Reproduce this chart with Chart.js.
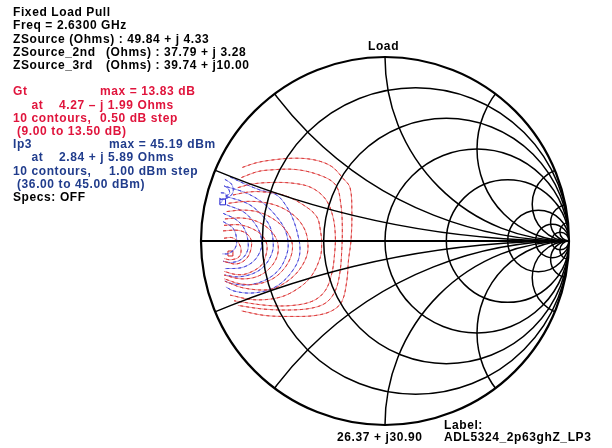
<!DOCTYPE html>
<html>
<head>
<meta charset="utf-8">
<script src="https://cdn.jsdelivr.net/npm/chart.js@4.4.0/dist/chart.umd.min.js"></script>
<style>
  html, body { margin: 0; padding: 0; background: #fff; }
  #wrap { position: relative; width: 612px; height: 448px; overflow: hidden; }
  canvas { position: absolute; left: 0; top: 0; }
  .t { position: absolute; font-family: "Liberation Sans", Arial, sans-serif; font-weight: bold;
       font-size: 12px; line-height: 13.2px; letter-spacing: 0.6px; white-space: pre; color: #000; }
  .r { color: #e0143c; }
  .b { color: #203c8c; }
</style>
</head>
<body>
<div id="wrap">
  <canvas id="smith" width="612" height="448"></canvas>

  <div class="t" style="left:13px;top:6.1px">Fixed Load Pull</div>
  <div class="t" style="left:13px;top:19.3px">Freq = 2.6300 GHz</div>
  <div class="t" style="left:13px;top:32.5px">ZSource (Ohms) : 49.84 + j 4.33</div>
  <div class="t" style="left:13px;top:45.7px">ZSource_2nd</div>
  <div class="t" style="left:106px;top:45.7px">(Ohms) : 37.79 + j 3.28</div>
  <div class="t" style="left:13px;top:58.9px">ZSource_3rd</div>
  <div class="t" style="left:106px;top:58.9px">(Ohms) : 39.74 + j10.00</div>

  <div class="t r" style="left:13px;top:85.3px">Gt</div>
  <div class="t r" style="left:100px;top:85.3px">max = 13.83 dB</div>
  <div class="t r" style="left:31.5px;top:98.5px">at</div>
  <div class="t r" style="left:59px;top:98.5px">4.27 – j 1.99 Ohms</div>
  <div class="t r" style="left:13px;top:111.7px">10 contours,</div>
  <div class="t r" style="left:100px;top:111.7px">0.50 dB step</div>
  <div class="t r" style="left:17px;top:124.9px">(9.00 to 13.50 dB)</div>

  <div class="t b" style="left:13px;top:138.1px">Ip3</div>
  <div class="t b" style="left:109px;top:138.1px">max = 45.19 dBm</div>
  <div class="t b" style="left:31.5px;top:151.3px">at</div>
  <div class="t b" style="left:59px;top:151.3px">2.84 + j 5.89 Ohms</div>
  <div class="t b" style="left:13px;top:164.5px">10 contours,</div>
  <div class="t b" style="left:109px;top:164.5px">1.00 dBm step</div>
  <div class="t b" style="left:17px;top:177.7px">(36.00 to 45.00 dBm)</div>
  <div class="t" style="left:13px;top:190.9px">Specs: OFF</div>

  <div class="t" style="left:368px;top:39.5px">Load</div>
  <div class="t" style="left:337px;top:431px">26.37 + j30.90</div>
  <div class="t" style="left:444px;top:418.5px">Label:</div>
  <div class="t" style="left:444px;top:431px">ADL5324_2p63ghZ_LP3</div>
</div>

<script>
// --- Smith chart grid (normalized r and x values) ---
const resistanceCircles = [0.2, 0.5, 1, 2, 5, 10, 20];
const reactanceArcs = [0.2, 0.5, 1, 2, 5, 10, 20];

// --- Gt contours, reflection coefficient [re, im], 9.0 .. 13.5 dB ---
const gtLevels = [9.0, 9.5, 10.0, 10.5, 11.0, 11.5, 12.0, 12.5, 13.0, 13.5];
const gt9_0 = [[-0.775,0.40],[-0.70,0.425],[-0.615,0.44],[-0.49,0.45],[-0.38,0.44],[-0.29,0.405],[-0.228,0.34],[-0.19,0.29],[-0.18,0.15],[-0.185,0.0],[-0.198,-0.10],[-0.208,-0.22],[-0.235,-0.33],[-0.29,-0.38],[-0.38,-0.405],[-0.50,-0.41],[-0.65,-0.405],[-0.78,-0.38]];
const gt9_5 = [[-0.78,0.345],[-0.70,0.375],[-0.64,0.385],[-0.48,0.388],[-0.335,0.35],[-0.265,0.30],[-0.24,0.20],[-0.232,0.08],[-0.235,-0.05],[-0.245,-0.17],[-0.27,-0.27],[-0.32,-0.335],[-0.40,-0.365],[-0.52,-0.375],[-0.66,-0.37],[-0.80,-0.35]];
const gt10_0 = [[-0.80,0.29],[-0.72,0.31],[-0.62,0.318],[-0.50,0.314],[-0.40,0.29],[-0.325,0.23],[-0.285,0.14],[-0.27,0.03],[-0.275,-0.08],[-0.29,-0.18],[-0.325,-0.27],[-0.39,-0.325],[-0.50,-0.35],[-0.64,-0.35],[-0.82,-0.325]];
const gt10_5 = [[-0.826,0.25],[-0.75,0.265],[-0.68,0.268],[-0.553,0.25],[-0.444,0.196],[-0.371,0.132],[-0.35,0.05],[-0.344,-0.01],[-0.353,-0.092],[-0.408,-0.201],[-0.498,-0.274],[-0.589,-0.31],[-0.716,-0.319],[-0.842,-0.294]];
const gt11_0 = [[-0.85,0.205],[-0.76,0.215],[-0.66,0.21],[-0.57,0.185],[-0.49,0.135],[-0.44,0.07],[-0.42,0.0],[-0.426,-0.083],[-0.48,-0.174],[-0.561,-0.238],[-0.634,-0.265],[-0.77,-0.255],[-0.87,-0.219]];
const gt11_5 = [[-0.86,0.16],[-0.77,0.168],[-0.68,0.155],[-0.60,0.115],[-0.54,0.06],[-0.505,-0.01],[-0.51,-0.08],[-0.548,-0.15],[-0.61,-0.205],[-0.70,-0.235],[-0.79,-0.232],[-0.875,-0.205]];
const gt12_0 = [[-0.87,0.12],[-0.78,0.125],[-0.70,0.108],[-0.63,0.065],[-0.59,0.01],[-0.58,-0.05],[-0.598,-0.11],[-0.645,-0.165],[-0.71,-0.198],[-0.79,-0.205],[-0.875,-0.185]];
const gt12_5 = [[-0.875,0.085],[-0.79,0.088],[-0.72,0.066],[-0.668,0.03],[-0.642,-0.02],[-0.648,-0.08],[-0.675,-0.135],[-0.752,-0.178],[-0.81,-0.182],[-0.875,-0.165]];
const gt13_0 = [[-0.88,0.055],[-0.80,0.058],[-0.752,0.04],[-0.726,0.0],[-0.733,-0.06],[-0.76,-0.103],[-0.81,-0.125],[-0.88,-0.11]];
const gt13_5 = [[-0.875,0.015],[-0.83,0.018],[-0.797,-0.008],[-0.782,-0.05],[-0.795,-0.088],[-0.84,-0.102],[-0.875,-0.095]];
const gtContours = [gt9_0, gt9_5, gt10_0, gt10_5, gt11_0, gt11_5, gt12_0, gt12_5, gt13_0, gt13_5];
const gtMaxPoint = [-0.84, -0.068];

// --- Ip3 contours, 36 .. 45 dBm ---
const ip3Levels = [36, 37, 38, 39, 40, 41, 42, 43, 44, 45];
const ip36 = [[-0.842,0.348],[-0.77,0.314],[-0.679,0.277],[-0.589,0.25],[-0.534,0.186],[-0.498,0.114],[-0.471,0.023],[-0.462,-0.04],[-0.47,-0.10],[-0.50,-0.158],[-0.56,-0.225],[-0.63,-0.265],[-0.73,-0.283],[-0.82,-0.272],[-0.865,-0.25]];
const ip37 = [[-0.86,0.295],[-0.75,0.259],[-0.661,0.205],[-0.589,0.132],[-0.543,0.06],[-0.526,-0.022],[-0.54,-0.09],[-0.58,-0.16],[-0.65,-0.212],[-0.74,-0.238],[-0.83,-0.232],[-0.87,-0.218]];
const ip38 = [[-0.86,0.241],[-0.75,0.205],[-0.679,0.151],[-0.625,0.078],[-0.607,-0.022],[-0.62,-0.08],[-0.66,-0.14],[-0.72,-0.178],[-0.80,-0.195],[-0.87,-0.185]];
const ip39 = [[-0.86,0.196],[-0.77,0.159],[-0.715,0.105],[-0.679,0.042],[-0.67,-0.022],[-0.685,-0.07],[-0.72,-0.115],[-0.78,-0.145],[-0.87,-0.15]];
const ip40 = [[-0.879,0.15],[-0.806,0.114],[-0.761,0.06],[-0.743,-0.022],[-0.755,-0.07],[-0.79,-0.105],[-0.84,-0.117],[-0.88,-0.11]];
const ip41 = [[-0.879,0.105],[-0.825,0.069],[-0.806,0.005],[-0.815,-0.04],[-0.85,-0.068],[-0.885,-0.07]];
const ip42 = [[-0.87,0.335],[-0.835,0.31],[-0.825,0.27],[-0.845,0.24],[-0.875,0.228]];
const ip43 = [[-0.875,0.30],[-0.852,0.285],[-0.845,0.258],[-0.868,0.243]];
const ip44 = [[-0.892,0.262],[-0.868,0.258],[-0.862,0.236],[-0.886,0.226]];
const ip45 = [[-0.9,0.232],[-0.884,0.22],[-0.896,0.205]];
const ip3Contours = [ip36, ip37, ip38, ip39, ip40, ip41, ip42, ip43, ip44, ip45];
const ip3MaxPoint = [-0.882, 0.212];

// --- build datasets: light solid line under a darker dashed one ---
function contourSets(list, light, dark) {
  const sets = [];
  list.forEach(pts => {
    const data = pts.map(p => ({ x: p[0], y: p[1] }));
    sets.push({ data, showLine: true, pointRadius: 0, borderWidth: 1, borderColor: light, tension: 0.35 });
    sets.push({ data, showLine: true, pointRadius: 0, borderWidth: 1, borderColor: dark, borderDash: [3, 3], tension: 0.35 });
  });
  return sets;
}

const datasets = [
  ...contourSets(gtContours, 'rgba(232,90,90,0.65)', '#cc1010'),
  ...contourSets(ip3Contours, 'rgba(110,110,230,0.65)', '#1515cc'),
  { data: [{ x: gtMaxPoint[0], y: gtMaxPoint[1] }], pointStyle: 'rect', pointRadius: 3.5, borderWidth: 1,
    borderColor: '#d02020', backgroundColor: 'rgba(0,0,0,0)' },
  { data: [{ x: ip3MaxPoint[0], y: ip3MaxPoint[1] }], pointStyle: 'rect', pointRadius: 4, borderWidth: 1,
    borderColor: '#2020d0', backgroundColor: 'rgba(0,0,0,0)' }
];

// --- Smith grid drawn on top of the contours ---
const smithGrid = {
  id: 'smithGrid',
  afterDatasetsDraw(chart) {
    const { ctx, scales } = chart;
    const px = u => scales.x.getPixelForValue(u);
    const py = v => scales.y.getPixelForValue(v);
    const unit = px(1) - px(0);

    ctx.save();
    ctx.beginPath();
    ctx.arc(px(0), py(0), unit, 0, Math.PI * 2);
    ctx.clip();
    ctx.strokeStyle = '#000';
    ctx.lineWidth = 1.5;
    resistanceCircles.forEach(r => {
      ctx.beginPath();
      ctx.arc(px(r / (r + 1)), py(0), unit / (r + 1), 0, Math.PI * 2);
      ctx.stroke();
    });
    reactanceArcs.forEach(xv => {
      [1, -1].forEach(s => {
        ctx.beginPath();
        ctx.arc(px(1), py(s / xv), unit / xv, 0, Math.PI * 2);
        ctx.stroke();
      });
    });
    ctx.restore();

    ctx.save();
    ctx.strokeStyle = '#000';
    ctx.lineWidth = 2.2;
    ctx.beginPath();
    ctx.moveTo(px(-1), py(0));
    ctx.lineTo(px(1), py(0));
    ctx.stroke();
    ctx.beginPath();
    ctx.arc(px(0), py(0), unit, 0, Math.PI * 2);
    ctx.stroke();
    ctx.restore();
  }
};

new Chart(document.getElementById('smith'), {
  type: 'scatter',
  data: { datasets },
  options: {
    responsive: false,
    animation: false,
    layout: { padding: { left: 201, right: 43, top: 57, bottom: 23 } },
    scales: {
      x: { type: 'linear', min: -1, max: 1, display: false },
      y: { type: 'linear', min: -1, max: 1, display: false }
    },
    plugins: { legend: { display: false }, tooltip: { enabled: false } }
  },
  plugins: [smithGrid]
});
</script>
</body>
</html>
